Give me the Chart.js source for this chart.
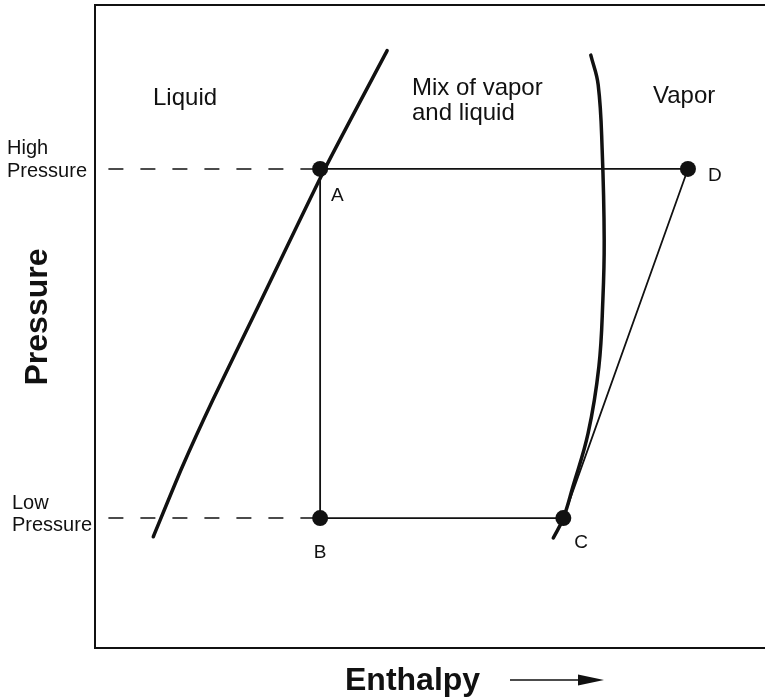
<!DOCTYPE html>
<html>
<head>
<meta charset="utf-8">
<title>Pressure - Enthalpy</title>
<script src="https://cdn.jsdelivr.net/npm/chart.js@4.4.1/dist/chart.umd.min.js"></script>
<style>
    html, body { margin: 0; padding: 0; background: #fff; overflow: hidden; }
    #wrap { width: 765px; height: 700px; }
</style>
</head>
<body>
<div id="wrap"><canvas id="phChart" width="765" height="700"></canvas></div>
<script>
        // Estado do ciclo (entalpia, pressão) em unidades arbitrárias 0-100
        const pressaoAlta = 74.5;
        const pressaoBaixa = 20.2;
        const pontosNomes = ['A', 'B', 'C', 'D'];
        const pontosEntalpia = [33.6, 33.6, 69.9, 88.5];
        const pontosPressao = [pressaoAlta, pressaoBaixa, pressaoBaixa, pressaoAlta];

        // Curva de líquido saturado
        const liquidoEntalpia = [43.6, 34.3, 24.3, 17.6, 13.0, 8.7];
        const liquidoPressao = [92.9, 74.5, 53.0, 38.6, 28.1, 17.3];

        // Curva de vapor saturado
        const vaporEntalpia = [74.0, 75.1, 75.7, 76.0, 75.8, 75.2, 73.6, 71.3, 69.9, 68.4];
        const vaporPressao = [92.2, 87.6, 77.4, 63.4, 54.1, 43.7, 33.4, 25.0, 20.2, 17.1];

        // Início das linhas tracejadas de pressão
        const tracejadoInicio = 2.0;

        const regioes = ['Liquid', 'Mix of vapor', 'and liquid', 'Vapor'];
        const rotulosPressao = ['High', 'Pressure', 'Low', 'Pressure'];
        const tituloX = 'Enthalpy';
        const tituloY = 'Pressure';

        const pares = (xs, ys) => xs.map((x, i) => ({ x: x, y: ys[i] }));
        const ponto = i => ({ x: pontosEntalpia[i], y: pontosPressao[i] });

        const cor = '#111';
        const fonte = '"Liberation Sans", Arial, Helvetica, sans-serif';

        // Textos desenhados sobre o gráfico
        const textosPlugin = {
            id: 'textos',
            afterDraw(chart) {
                const c = chart.ctx;
                const sx = chart.scales.x;
                const sy = chart.scales.y;
                c.save();
                c.fillStyle = cor;
                c.textBaseline = 'alphabetic';

                c.font = '24px ' + fonte;
                c.textAlign = 'left';
                c.fillText(regioes[0], 153, 105);
                c.fillText(regioes[1], 412, 95);
                c.fillText(regioes[2], 412, 120);
                c.fillText(regioes[3], 653, 103);

                c.font = '20px ' + fonte;
                c.fillText(rotulosPressao[0], 7, 154);
                c.fillText(rotulosPressao[1], 7, 177);
                c.fillText(rotulosPressao[2], 12, 509);
                c.fillText(rotulosPressao[3], 12, 531);

                // nomes dos pontos, relativos a cada marcador
                const desloc = [[11, 32, 'left'], [0, 40, 'center'], [11, 30, 'left'], [20, 12, 'left']];
                c.font = '19px ' + fonte;
                pontosNomes.forEach((nome, i) => {
                    const px = sx.getPixelForValue(pontosEntalpia[i]);
                    const py = sy.getPixelForValue(pontosPressao[i]);
                    c.textAlign = desloc[i][2];
                    c.fillText(nome, px + desloc[i][0], py + desloc[i][1]);
                });

                // títulos dos eixos
                c.font = 'bold 32px ' + fonte;
                c.textAlign = 'left';
                c.fillText(tituloX, 345, 690);

                c.save();
                c.translate(47, 317);
                c.rotate(-Math.PI / 2);
                c.textAlign = 'center';
                c.fillText(tituloY, 0, 0);
                c.restore();

                // seta do eixo x
                c.strokeStyle = cor;
                c.lineWidth = 1.5;
                c.beginPath();
                c.moveTo(510, 680);
                c.lineTo(582, 680);
                c.stroke();
                c.beginPath();
                c.moveTo(604, 680);
                c.lineTo(578, 674.5);
                c.lineTo(578, 685.5);
                c.closePath();
                c.fill();

                c.restore();
            }
        };

        const ctxPH = document.getElementById('phChart').getContext('2d');
        const phChart = new Chart(ctxPH, {
            type: 'scatter',
            data: {
                datasets: [
                    {
                        label: 'Pontos',
                        data: pontosNomes.map((n, i) => ponto(i)),
                        backgroundColor: cor,
                        borderColor: cor,
                        pointRadius: 8,
                        pointBorderWidth: 0,
                        showLine: false
                    },
                    {
                        label: 'Ciclo',
                        data: [ponto(0), ponto(3), ponto(2), ponto(1), ponto(0)],
                        borderColor: cor,
                        borderWidth: 1.8,
                        pointRadius: 0,
                        showLine: true,
                        tension: 0
                    },
                    {
                        label: 'Líquido',
                        data: pares(liquidoEntalpia, liquidoPressao),
                        borderColor: cor,
                        borderWidth: 3.5,
                        pointRadius: 0,
                        showLine: true,
                        tension: 0.2,
                        borderCapStyle: 'round'
                    },
                    {
                        label: 'Vapor',
                        data: pares(vaporEntalpia, vaporPressao),
                        borderColor: cor,
                        borderWidth: 3.5,
                        pointRadius: 0,
                        showLine: true,
                        tension: 0.4,
                        borderCapStyle: 'round'
                    },
                    {
                        label: 'Alta',
                        data: [{ x: tracejadoInicio, y: pressaoAlta }, ponto(0)],
                        borderColor: cor,
                        borderWidth: 1.5,
                        borderDash: [15, 17],
                        pointRadius: 0,
                        showLine: true
                    },
                    {
                        label: 'Baixa',
                        data: [{ x: tracejadoInicio, y: pressaoBaixa }, ponto(1)],
                        borderColor: cor,
                        borderWidth: 1.5,
                        borderDash: [15, 17],
                        pointRadius: 0,
                        showLine: true
                    }
                ]
            },
            options: {
                responsive: false,
                animation: false,
                events: [],
                layout: { autoPadding: false, padding: { left: 95, top: 5, right: 0, bottom: 52 } },
                plugins: { legend: { display: false }, tooltip: { enabled: false } },
                scales: {
                    x: {
                        type: 'linear',
                        position: 'bottom',
                        min: 0,
                        max: 100,
                        ticks: { display: false },
                        grid: { display: false, drawTicks: false },
                        border: { display: true, color: cor, width: 2 }
                    },
                    x2: {
                        type: 'linear',
                        position: 'top',
                        min: 0,
                        max: 100,
                        ticks: { display: false },
                        grid: { display: false, drawTicks: false },
                        border: { display: true, color: cor, width: 2 }
                    },
                    y: {
                        type: 'linear',
                        min: 0,
                        max: 100,
                        ticks: { display: false },
                        grid: { display: false, drawTicks: false },
                        border: { display: true, color: cor, width: 2 }
                    }
                }
            },
            plugins: [textosPlugin]
        });
</script>
</body>
</html>
